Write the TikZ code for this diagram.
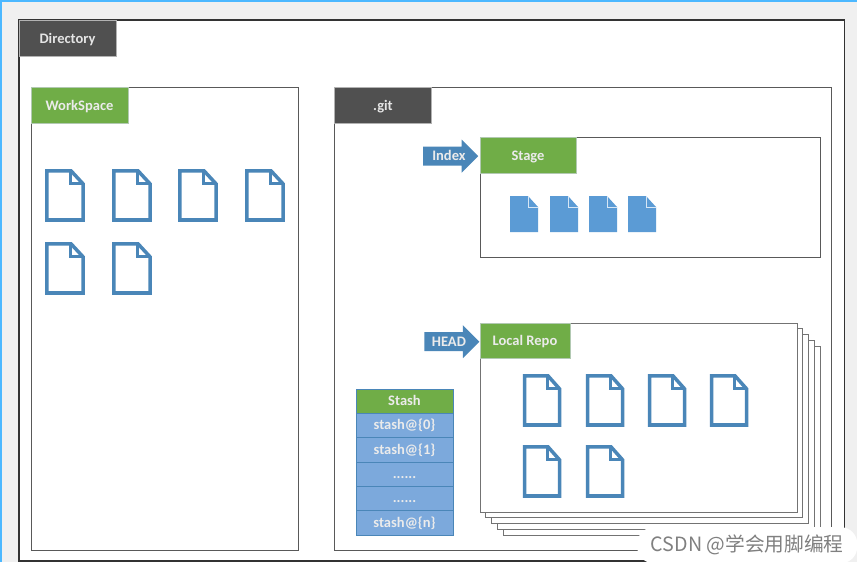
\documentclass[tikz,border=0pt]{standalone}
\usepackage{fontspec}
\setmainfont{Carlito}
\newfontfamily\cjkfont{Noto Sans CJK SC}
\usetikzlibrary{arrows.meta,positioning,shapes.arrows}

\definecolor{filelineblue}{HTML}{4A86B8}
\definecolor{filefillblue}{HTML}{5B9BD5}
\definecolor{rowblue}{HTML}{7CA9DC}
\definecolor{tabgreen}{HTML}{70AD47}
\definecolor{tabdark}{HTML}{505050}

\begin{document}
\begin{tikzpicture}[
  x=0.03cm, y=-0.03cm,
  font=\fontsize{12.4}{14}\selectfont\bfseries,
  outerframe/.style={draw=black!80, line width=0.9pt, fill=white, anchor=north west, inner sep=0pt, outer sep=0pt},
  panel/.style={draw=black!65, line width=0.8pt, fill=white, anchor=north west, inner sep=0pt, outer sep=0pt},
  repopage/.style={panel, draw=black!55, minimum width=9.51cm, minimum height=5.67cm},
  darktab/.style={draw=black!30, line width=0.6pt, fill=tabdark, text=white!90!black, anchor=north west, minimum width=2.91cm, minimum height=1.08cm, inner sep=0pt, outer sep=0pt, text height=11pt, text depth=2.4pt},
  greentab/.style={draw=green!30!black!30, line width=0.6pt, fill=tabgreen, text=white!92!black, anchor=north west, minimum width=2.91cm, minimum height=1.08cm, inner sep=0pt, outer sep=0pt, text height=11pt, text depth=2.4pt},
  pointer/.style={single arrow, draw=none, fill=filelineblue, text=white!92!black, anchor=tip, single arrow head extend=0.21cm, single arrow tip angle=90, minimum height=1.65cm, inner xsep=1pt, inner ysep=1.5pt, text height=10.5pt, text depth=2.4pt, outer sep=0pt},
  stashcell/.style={draw=filelineblue, line width=0.8pt, fill=rowblue, text=white!92!black, minimum width=2.91cm, minimum height=0.73cm, inner sep=0pt, outer sep=0pt, text height=10pt, text depth=2.4pt},
  docfile/.pic={
    \draw[filelineblue, line width=3pt, miter limit=10, fill=white] (1.8,1.8) -- (26,1.8) -- (38.2,15) -- (38.2,51) -- (1.8,51) -- cycle;
    \draw[filelineblue, line width=2.4pt] (25.5,1.8) -- (25.5,14.5) -- (38.2,14.5);
  },
  solidfile/.pic={
    \fill[filefillblue] (0,0) -- (18,0) -- (28,11) -- (28,36) -- (0,36) -- cycle;
    \draw[white!75!filefillblue, line width=0.6pt] (18,0) -- (18,11) -- (28,11);
  }
]
\useasboundingbox (0,0) rectangle (857,562);
\fill[black!6] (0,0) rectangle (857,562);
\fill[blue!40!cyan!70!white] (0,0) rectangle (857,2);
\fill[blue!40!cyan!70!white] (0,0) rectangle (2,562);

% directory
\node[outerframe, minimum width=24.75cm, minimum height=16.23cm] (directory) at (19,20) {};
\node[darktab] (directorytab) at (directory.north west) {Directory};

% workspace
\node[panel, minimum width=8.01cm, minimum height=13.89cm] (workspace) at (31,87) {};
\node[greentab] (workspacetab) at (workspace.north west) {WorkSpace};
\foreach \x in {45,112,178,245} \path (\x,169) pic {docfile};
\foreach \x in {45,112} \path (\x,242) pic {docfile};

% .git
\node[panel, minimum width=14.91cm, minimum height=13.89cm] (git) at (334.5,87) {};
\node[darktab] (gittab) at (git.north west) {.git};

% stage
\node[panel, minimum width=10.2cm, minimum height=3.6cm] (stage) at (480,137) {};
\node[greentab, minimum width=2.88cm] (stagetab) at (stage.north west) {Stage};
\node[pointer] (index) at ([xshift=-1.5pt,yshift=-1pt]stagetab.west) {\hspace*{5pt}Index};
\foreach \x in {510,550,589,628} \path (\x,196) pic {solidfile};

% local repo
\foreach \n in {4,3,2,1,0}
  \node[repopage] (repo\n) at ({480+5.8*\n},{323+5.8*\n}) {};
\node[greentab, minimum height=1.05cm, minimum width=2.7cm] (repotab) at (repo0.north west) {Local Repo};
\node[pointer] (head) at ([xshift=-0.5pt,yshift=-1pt]repotab.west) {\hspace*{3pt}HEAD};
\foreach \x in {523,586,648,710} \path (\x,374) pic[xscale=0.96] {docfile};
\foreach \x in {523,586} \path (\x,445) pic[xscale=0.96] {docfile};

% stash
\node[stashcell, fill=tabgreen, anchor=north west] (stash) at (356,389) {Stash};
\node[stashcell, below=0pt of stash] (stash0) {stash@\{0\}};
\node[stashcell, below=0pt of stash0] (stash1) {stash@\{1\}};
\node[stashcell, below=0pt of stash1] (stash2) {......};
\node[stashcell, below=0pt of stash2] (stash3) {......};
\node[stashcell, below=0pt of stash3] (stashn) {stash@\{n\}};

% watermark
\node[fill=white, rounded corners=14pt, anchor=north west, minimum width=6.6cm, minimum height=1.08cm, inner sep=0pt, text=black!50, font=\cjkfont\fontsize{16.8}{18}\selectfont] (mark) at (637,527) {CSDN @学会用脚编程};

\end{tikzpicture}
\end{document}
